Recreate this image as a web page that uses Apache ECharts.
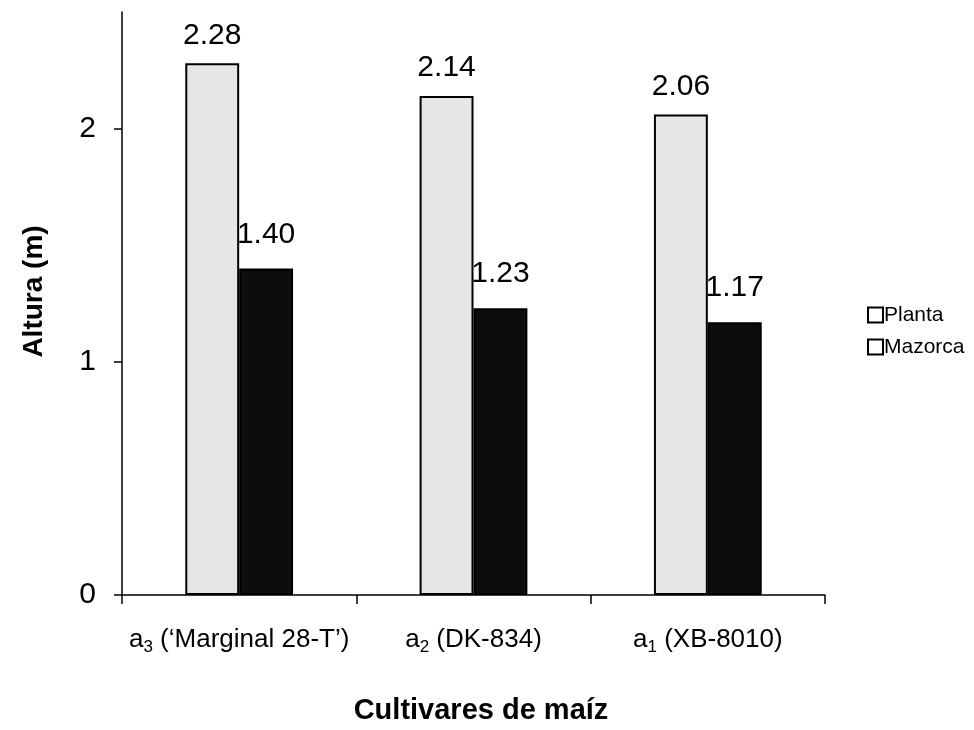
<!DOCTYPE html>
<html>
<head>
<meta charset="utf-8">
<script src="https://cdn.jsdelivr.net/npm/echarts@6/dist/echarts.min.js"></script>
<style>
  html, body { margin: 0; padding: 0; background: #fff; }
  #chart { width: 974px; height: 730px; }
</style>
</head>
<body>
<div id="chart"></div>
<script>
// Plant and ear height per maize cultivar
const cultivarPrefix = ['a', 'a', 'a'];
const cultivarIndex = ['3', '2', '1'];
const cultivarName = [' (\u2018Marginal 28-T\u2019)', ' (DK-834)', ' (XB-8010)'];
const categories = cultivarIndex.map((n, i) => cultivarPrefix[i] + n + cultivarName[i]);
const plantaValues = [2.28, 2.14, 2.06];
const mazorcaValues = [1.40, 1.23, 1.17];
const yTicks = [0, 1, 2];

const FONT = '"Liberation Sans", Arial, sans-serif';

const chart = echarts.init(document.getElementById('chart'), null, { renderer: 'canvas' });

chart.setOption({
  backgroundColor: '#ffffff',
  animation: false,
  textStyle: { fontFamily: FONT, color: '#000' },
  grid: { left: 122, right: 149, top: 12, bottom: 133, containLabel: false },
  legend: {
    orient: 'vertical',
    left: 862,
    top: 298,
    itemWidth: 15,
    itemHeight: 15,
    itemGap: 8,
    icon: 'rect',
    textStyle: { fontFamily: FONT, fontSize: 21, color: '#000', lineHeight: 24, padding: [0, 0, 0, -4] },
    data: [
      { name: 'Planta', itemStyle: { color: '#ffffff', borderColor: '#000', borderWidth: 2 } },
      { name: 'Mazorca', itemStyle: { color: '#ffffff', borderColor: '#000', borderWidth: 2 } }
    ]
  },
  xAxis: {
    type: 'category',
    data: categories,
    boundaryGap: true,
    name: 'Cultivares de ma\u00edz',
    nameLocation: 'middle',
    nameGap: 101,
    nameTextStyle: { fontFamily: FONT, fontSize: 29, fontWeight: 'bold', color: '#000', padding: [0, 0, 0, 15] },
    axisLine: { lineStyle: { color: '#000', width: 1.5 } },
    axisTick: { show: true, alignWithLabel: false, length: 9, lineStyle: { color: '#000', width: 1.5 } },
    axisLabel: {
      margin: 29,
      formatter: function (value, idx) {
        return '{m|' + cultivarPrefix[idx] + '}{s|' + cultivarIndex[idx] + '}{m|' + cultivarName[idx] + '}';
      },
      rich: {
        m: { fontFamily: FONT, fontSize: 26, color: '#000', lineHeight: 32 },
        s: { fontFamily: FONT, fontSize: 17, color: '#000', lineHeight: 32, verticalAlign: 'bottom', padding: [9, 0, 0, 0] }
      }
    },
    splitLine: { show: false }
  },
  yAxis: {
    type: 'value',
    min: 0,
    max: 2.5,
    interval: 0.5,
    name: 'Altura (m)',
    nameLocation: 'middle',
    nameGap: 74,
    nameRotate: 90,
    nameTextStyle: { fontFamily: FONT, fontSize: 28, fontWeight: 'bold', color: '#000', padding: [0, 0, 0, 24] },
    axisLine: { show: true, lineStyle: { color: '#000', width: 1.5 } },
    axisTick: { show: true, length: 8, customValues: yTicks, lineStyle: { color: '#000', width: 1.5 } },
    axisLabel: {
      margin: 26,
      customValues: yTicks,
      fontFamily: FONT,
      fontSize: 30,
      color: '#000'
    },
    splitLine: { show: false }
  },
  series: [
    {
      name: 'Planta',
      type: 'bar',
      data: plantaValues,
      barWidth: '23%',
      barGap: '0%',
      itemStyle: { color: '#e6e6e6', borderColor: '#000', borderWidth: 2 },
      label: {
        show: true,
        position: 'top',
        distance: 13,
        formatter: p => p.value.toFixed(2),
        fontFamily: FONT,
        fontSize: 30,
        color: '#000'
      }
    },
    {
      name: 'Mazorca',
      type: 'bar',
      data: mazorcaValues,
      barWidth: '23%',
      barGap: '0%',
      itemStyle: { color: '#0d0d0d', borderColor: '#000', borderWidth: 2 },
      label: {
        show: true,
        position: 'top',
        distance: 19,
        formatter: p => p.value.toFixed(2),
        fontFamily: FONT,
        fontSize: 30,
        color: '#000'
      }
    }
  ]
});
</script>
</body>
</html>
